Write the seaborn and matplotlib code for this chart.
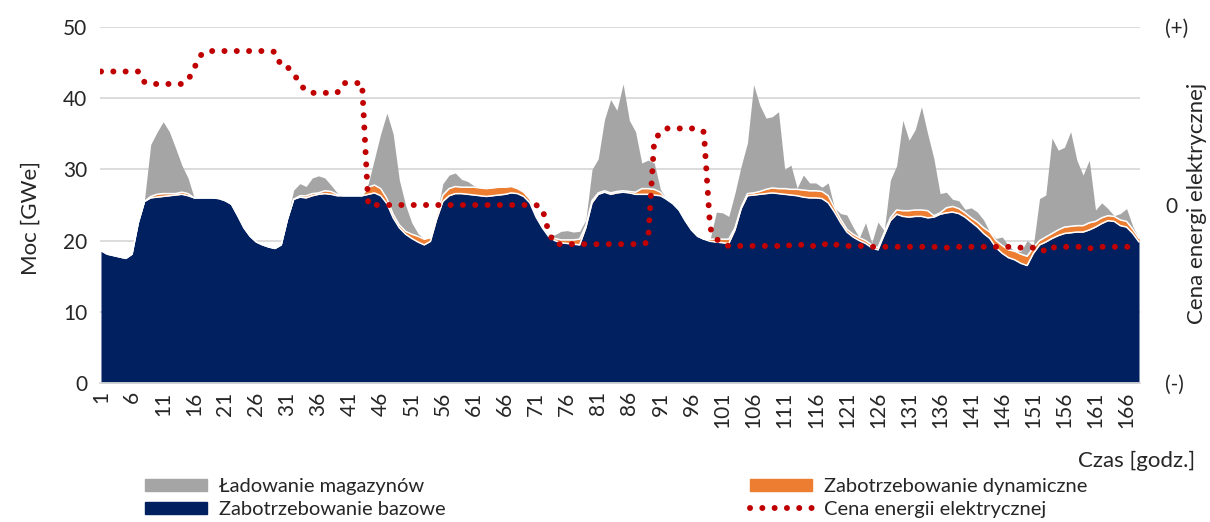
import matplotlib
matplotlib.use("Agg")
import matplotlib.pyplot as plt
import seaborn as sns
from matplotlib.patches import Patch
from matplotlib.lines import Line2D

# godziny tygodnia
hours = list(range(1, 169))

# Zabotrzebowanie bazowe [GWe]
base = [
    18.6, 18.1, 17.9, 17.7, 17.5, 18.1, 22.5, 25.5, 26.0, 26.1, 26.2, 26.3,
    26.4, 26.5, 26.3, 26.0, 26.0, 26.0, 26.0, 25.9, 25.6, 25.1, 23.5, 21.8,
    20.6, 19.8, 19.4, 19.1, 18.9, 19.4, 23.0, 25.8, 26.1, 26.0, 26.3, 26.5,
    26.6, 26.5, 26.3, 26.3, 26.3, 26.3, 26.3, 26.5, 26.7, 26.3, 25.2, 23.2,
    21.8, 20.9, 20.3, 19.8, 19.4, 19.9, 23.0, 25.5, 26.3, 26.6, 26.6, 26.5,
    26.4, 26.3, 26.2, 26.3, 26.4, 26.5, 26.7, 26.6, 26.2, 25.3, 23.3, 21.8,
    20.6, 20.0, 19.7, 19.6, 19.5, 19.4, 21.8, 25.3, 26.5, 26.8, 26.5, 26.7,
    26.8, 26.7, 26.5, 26.5, 26.5, 26.4, 26.3, 25.8, 25.2, 24.3, 22.8, 21.5,
    20.6, 20.2, 19.9, 19.8, 19.7, 19.6, 21.5, 24.5, 26.3, 26.4, 26.5, 26.6,
    26.7, 26.6, 26.5, 26.4, 26.3, 26.1, 26.0, 26.0, 25.9, 25.3, 24.0, 22.5,
    21.2, 20.5, 20.0, 19.6, 19.0, 18.7, 20.8, 22.8, 23.7, 23.4, 23.3, 23.4,
    23.4, 23.2, 23.3, 23.7, 23.9, 24.0, 23.8, 23.3, 22.6, 21.9, 21.0, 20.3,
    19.0, 18.2, 17.6, 17.3, 16.8, 16.5, 18.2, 19.4, 19.8, 20.3, 20.7, 21.0,
    21.1, 21.2, 21.2, 21.5, 21.9, 22.4, 22.8, 22.7, 22.1, 21.9, 21.0, 19.8,
]

# Zabotrzebowanie dynamiczne [GWe]
dyn = [
    0, 0, 0, 0, 0, 0, 0, 0, 0.2, 0.4, 0.4, 0.3,
    0.2, 0.3, 0.3, 0, 0, 0, 0, 0, 0, 0, 0, 0,
    0, 0, 0, 0, 0, 0, 0, 0, 0.2, 0.3, 0.3, 0.2,
    0.4, 0.4, 0.2, 0, 0, 0, 0, 1.0, 1.1, 1.0, 0.7, 0.5,
    0.4, 0.4, 0.6, 0.8, 0.8, 0.5, 0.6, 0.9, 1.0, 1.0, 0.9, 1.0,
    1.1, 1.1, 1.1, 1.1, 1.1, 1.0, 0.9, 0.7, 0.6, 0.5, 0.4, 0.3,
    0.3, 0.3, 0.4, 0.5, 0.6, 0.8, 0.3, 0.3, 0.2, 0.2, 0.2, 0.2,
    0.2, 0.2, 0.3, 0.8, 0.8, 0.8, 0.5, 0, 0, 0, 0, 0,
    0, 0, 0.3, 0.4, 0.5, 0.6, 0.3, 0.2, 0.3, 0.3, 0.4, 0.6,
    0.7, 0.7, 0.8, 0.8, 0.9, 1.0, 1.0, 1.0, 1.0, 1.0, 0.6, 0.5,
    0.4, 0.4, 0.4, 0.4, 0.4, 0.3, 0.3, 0.4, 0.6, 0.8, 0.9, 0.9,
    0.9, 1.0, 0.2, 0.2, 0.7, 0.8, 0.7, 0.6, 0.6, 0.7, 0.8, 0.9,
    1.0, 1.1, 1.1, 1.2, 1.3, 1.3, 0.8, 0.6, 0.7, 0.7, 0.8, 0.9,
    0.9, 0.9, 0.9, 1.0, 0.8, 0.8, 0.7, 0.7, 0.8, 0.8, 0.6, 0.5,
]

# Ładowanie magazynów [GWe]
stor = [
    0, 0, 0, 0, 0, 0, 0, 0.3, 7.3, 8.7, 10.1, 8.7,
    6.4, 3.8, 2.2, 0, 0, 0, 0, 0, 0, 0, 0, 0,
    0, 0, 0, 0, 0, 0, 0.3, 1.3, 1.7, 1.3, 2.2, 2.4,
    1.8, 0.9, 0.2, 0, 0, 0, 0, 0.5, 3.7, 7.7, 12.0, 11.3,
    6.3, 3.7, 1.6, 0.4, 0, 0, 0, 1.6, 1.9, 1.9, 1.1, 0.8,
    0.2, 0, 0, 0, 0, 0, 0, 0, 0, 0, 0, 0,
    0, 0.5, 1.2, 1.3, 1.1, 1.1, 0.8, 4.4, 4.8, 10.0, 13.1, 11.4,
    15.0, 10.0, 8.5, 3.6, 4.0, 3.7, 0.4, 0, 0, 0, 0, 0,
    0, 0, 0, 3.8, 3.7, 3.2, 4.9, 5.8, 7.1, 15.2, 12.1, 10.0,
    10.0, 10.8, 2.7, 3.4, 0.2, 2.1, 1.1, 1.1, 0.6, 1.8, 0, 0.8,
    2.0, 1.0, 0, 2.5, 0.3, 3.6, 0.3, 5.3, 6.2, 12.7, 9.9, 11.3,
    14.5, 10.8, 8.0, 2.7, 2.2, 1.0, 1.1, 0.5, 1.4, 1.4, 1.1, 0,
    0.3, 1.2, 0.6, 0, 0.4, 2.2, 0.3, 5.9, 5.9, 13.4, 11.2, 11.2,
    13.3, 9.2, 7.1, 8.8, 1.6, 2.1, 1.0, 0.1, 0.9, 1.8, 0.4, 0,
]

# Cena energii elektrycznej (skala względna: -1 = (-), 0, 1 = (+))
price = [
    0.75, 0.75, 0.75, 0.75, 0.75, 0.75, 0.75, 0.69, 0.68, 0.68, 0.68, 0.68,
    0.68, 0.68, 0.70, 0.77, 0.84, 0.865, 0.865, 0.865, 0.865, 0.865, 0.865, 0.865,
    0.865, 0.865, 0.865, 0.865, 0.86, 0.78, 0.775, 0.74, 0.68, 0.64, 0.63, 0.63,
    0.63, 0.63, 0.63, 0.685, 0.685, 0.685, 0.685, 0.0, 0.0, 0.0, 0.0, 0.0,
    0.0, 0.0, 0.0, 0.0, 0.0, 0.0, 0.0, 0.0, 0.0, 0.0, 0.0, 0.0,
    0.0, 0.0, 0.0, 0.0, 0.0, 0.0, 0.0, 0.0, 0.0, 0.0, 0.0, -0.02,
    -0.15, -0.22, -0.22, -0.22, -0.22, -0.22, -0.22, -0.22, -0.22, -0.22, -0.22, -0.22,
    -0.22, -0.22, -0.22, -0.22, -0.21, 0.36, 0.41, 0.43, 0.43, 0.43, 0.43, 0.43,
    0.43, 0.41, -0.13, -0.19, -0.22, -0.23, -0.23, -0.23, -0.23, -0.23, -0.23, -0.23,
    -0.23, -0.23, -0.22, -0.23, -0.23, -0.22, -0.23, -0.23, -0.23, -0.21, -0.22, -0.23,
    -0.23, -0.23, -0.23, -0.23, -0.235, -0.235, -0.235, -0.235, -0.235, -0.235, -0.235, -0.235,
    -0.235, -0.235, -0.235, -0.24, -0.24, -0.235, -0.235, -0.235, -0.235, -0.235, -0.235, -0.235,
    -0.235, -0.235, -0.235, -0.235, -0.24, -0.24, -0.24, -0.235, -0.265, -0.24, -0.235, -0.235,
    -0.235, -0.235, -0.235, -0.245, -0.235, -0.235, -0.235, -0.235, -0.235, -0.235, -0.235, -0.235,
]

tick_hours = list(range(1, 168, 5))
price_ticks = [-1, 0, 1]
price_labels = ["(-)", "0", "(+)"]

navy = "#002060"
orange = "#ED7D31"
grey = "#A5A5A5"
red = "#C00000"
grid_c = "#D9D9D9"

sns.set_style("white")
plt.rcParams["font.family"] = ["Lato", "DejaVu Sans"]
plt.rcParams["font.size"] = 15

fig = plt.figure(figsize=(12.1, 5.22), dpi=100)
W, H = 1210, 522
ax = fig.add_axes([100 / W, 1 - 383 / H, 1040 / W, 356 / H])

ax.stackplot(hours, base, dyn, stor, colors=[navy, orange, grey], linewidth=0)
ax.plot(hours, base, color="white", lw=1.1)
ax.plot(hours, [b + d for b, d in zip(base, dyn)], color="white", lw=1.1)

ax.set_xlim(0.84, 168.16)
ax.set_ylim(0, 50)
ax.set_yticks([0, 10, 20, 30, 40, 50])
ax.set_xticks(tick_hours)
ax.set_xticklabels([str(t) for t in tick_hours])
ax.tick_params(axis="x", labelrotation=90, pad=6, length=0, labelsize=15)
ax.tick_params(axis="y", pad=9, length=0, labelsize=15)
ax.yaxis.grid(True, color=grid_c, lw=1.3)
ax.set_axisbelow(True)
for s in ["top", "right", "left"]:
    ax.spines[s].set_visible(False)
ax.spines["bottom"].set_color(grid_c)
ax.spines["bottom"].set_linewidth(1.3)

ax2 = ax.twinx()
sns.lineplot(x=hours, y=price, ax=ax2, color=red, lw=4.3,
             linestyle=(0, (0.01, 2.05)), dash_capstyle="round")
ax2.set_ylim(-1, 1)
ax2.set_yticks(price_ticks)
ax2.set_yticklabels(price_labels)
ax2.tick_params(axis="y", pad=18, length=0, labelsize=15)
ax2.set_ylabel("")
for s in ax2.spines.values():
    s.set_visible(False)

fig.text(31 / W, 1 - 218 / H, "Moc [GWe]", rotation=90, ha="center", va="center", fontsize=16)
fig.text(1197 / W, 1 - 203 / H, "Cena energi elektrycznej", rotation=90,
         ha="center", va="center", fontsize=16)
fig.text(1195 / W, 1 - 461 / H, "Czas [godz.]", ha="right", va="center", fontsize=16)

leg_kw = dict(frameon=False, fontsize=14.5, handlelength=3.1, handleheight=0.55,
              handletextpad=0.55, labelspacing=0.3, borderpad=0, borderaxespad=0)
h1 = [Patch(color=grey), Patch(color=navy)]
fig.legend(h1, ["Ładowanie magazynów", "Zabotrzebowanie bazowe"],
           loc="upper left", bbox_to_anchor=(145 / W, 1 - 478 / H), **leg_kw)
h2 = [Patch(color=orange),
      Line2D([0], [0], color=red, lw=4.3, linestyle=(0, (0.01, 2.05)), dash_capstyle="round")]
fig.legend(h2, ["Zabotrzebowanie dynamiczne", "Cena energii elektrycznej"],
           loc="upper left", bbox_to_anchor=(750 / W, 1 - 478 / H), **leg_kw)

fig.savefig("out.png", dpi=100)
